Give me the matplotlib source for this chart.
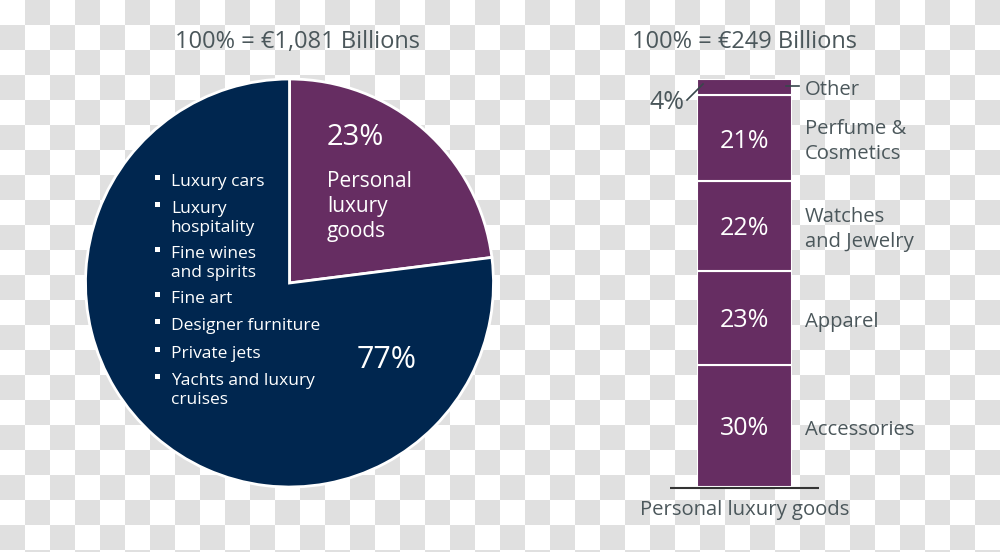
import numpy as np
import matplotlib
matplotlib.use("Agg")
import matplotlib.pyplot as plt
from matplotlib.colors import ListedColormap
from matplotlib.transforms import blended_transform_factory, offset_copy

# ---------------- data ----------------
pie_labels = ["Personal luxury goods", "Other luxury"]
pie_values = [23, 77]
pie_total_title = "100% = €1,081 Billions"
other_items = ["Luxury cars", "Luxury\nhospitality", "Fine wines\nand spirits", "Fine art",
               "Designer furniture", "Private jets", "Yachts and luxury\ncruises"]

bar_categories = ["Accessories", "Apparel", "Watches\nand Jewelry", "Perfume &\nCosmetics", "Other"]
bar_values = [30, 23, 22, 21, 4]
bar_total_title = "100% = €249 Billions"
bar_xlabel = "Personal luxury goods"

PURPLE = "#662d62"
NAVY = "#00264f"
GRAY_TXT = "#4b575b"
FONT = "Open Sans"

plt.rcParams["font.family"] = [FONT, "DejaVu Sans"]

W, H = 1000, 552
fig = plt.figure(figsize=(W / 100, H / 100), dpi=100)

# background (transparent checker look)
bg = fig.add_axes([0, 0, 1, 1])
yy, xx = np.indices((H, W))
checker = ((yy // 25 + xx // 25) % 2)
bg.imshow(checker, cmap=ListedColormap(["#ffffff", "#e0e0e0"]), extent=(0, W, H, 0),
          interpolation="nearest", aspect="auto", zorder=0)
bg.set_xlim(0, W)
bg.set_ylim(H, 0)
bg.axis("off")

# ---------------- pie ----------------
cx, cy, r = 289.5, 283, 204
axp = fig.add_axes([(cx - r) / W, (H - cy - r) / H, 2 * r / W, 2 * r / H])
axp.pie(pie_values, colors=[PURPLE, NAVY], startangle=90, counterclock=False,
        wedgeprops=dict(edgecolor="white", linewidth=2))
axp.set_xlim(-1, 1)
axp.set_ylim(-1, 1)
axp.axis("off")

# ---------------- stacked bar ----------------
bx0, bx1, btop, bbot = 697, 792, 79, 487
axb = fig.add_axes([bx0 / W, (H - bbot) / H, (bx1 - bx0) / W, (bbot - btop) / H])
bottoms = np.concatenate([[0], np.cumsum(bar_values)[:-1]])
axb.bar([0] * len(bar_values), bar_values, bottom=bottoms, width=1.0, color=PURPLE,
        edgecolor="white", linewidth=1.5)
axb.set_xlim(-0.5, 0.5)
axb.set_ylim(0, sum(bar_values))
axb.axis("off")

# overlay in pixel coordinates for all annotations
ov = fig.add_axes([0, 0, 1, 1])
ov.set_xlim(0, W)
ov.set_ylim(H, 0)
ov.axis("off")
ov.patch.set_visible(False)

ov.text(cx + 8, 48, pie_total_title, ha="center", va="baseline", fontsize=17, color=GRAY_TXT)

# pie labels
ov.text(327, 145, f"{pie_values[0]}%", ha="left", va="baseline", fontsize=21, color="white")
for i, line in enumerate(["Personal", "luxury", "goods"]):
    ov.text(327, 187 + 25 * i, line, ha="left", va="baseline", fontsize=15, color="white")
ov.text(357, 368, f"{pie_values[1]}%", ha="left", va="baseline", fontsize=22, color="white")

item_baselines = [186, 213, 258, 303, 330, 358, 385]
for item, yb in zip(other_items, item_baselines):
    ov.plot([156.5], [yb - 9.5], marker="s", ms=3.6, color="white", mew=0)
    for j, line in enumerate(item.split("\n")):
        ov.text(171, yb + 19 * j, line, ha="left", va="baseline", fontsize=12.5, color="white")

trans = blended_transform_factory(ov.transData, axb.transData)
bxc = (bx0 + bx1) / 2
LAB = 14.6
for cat, v, b in zip(bar_categories, bar_values, bottoms):
    mid = b + v / 2
    if cat == "Other":
        tr = offset_copy(trans, fig=fig, x=0, y=-8, units="dots")
        ov.text(805, mid, cat, transform=tr, ha="left", va="baseline", fontsize=LAB, color=GRAY_TXT)
        ov.plot([786, 799], [mid, mid], transform=offset_copy(trans, fig=fig, x=0, y=1, units="dots"),
                color="#37474b", lw=1.2, clip_on=False)
        ov.plot([687, 703], [100, 84], color="#37474b", lw=1.2)
        ov.text(684, 109, f"{v}%", ha="right", va="baseline", fontsize=18, color=GRAY_TXT)
        continue
    tr = offset_copy(trans, fig=fig, x=0, y=-9.5, units="dots")
    ov.text(bxc, mid, f"{v}%", transform=tr, ha="center", va="baseline", fontsize=18, color="white")
    lines = cat.split("\n")
    if len(lines) == 1:
        ov.text(805, mid, cat, transform=tr, ha="left", va="baseline", fontsize=LAB, color=GRAY_TXT)
    else:
        for j, line in enumerate(lines):
            trj = offset_copy(trans, fig=fig, x=0, y=4 - 25 * j, units="dots")
            ov.text(805, mid, line, transform=trj, ha="left", va="baseline", fontsize=LAB,
                    color=GRAY_TXT)

# baseline of bar
ov.plot([670, 819], [0, 0], transform=offset_copy(trans, fig=fig, x=0, y=-1, units="dots"),
        color="#333333", lw=1.5, clip_on=False, solid_capstyle="butt")
ov.text(bxc, 515, bar_xlabel, ha="center", va="baseline", fontsize=LAB, color=GRAY_TXT)
ov.text(bxc, 48, bar_total_title, ha="center", va="baseline", fontsize=17, color=GRAY_TXT)

fig.savefig("out.png", dpi=100)
